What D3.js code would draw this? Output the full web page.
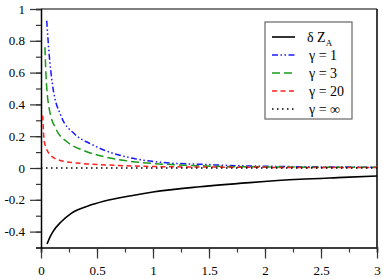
<!DOCTYPE html>
<html>
<head>
<meta charset="utf-8">
<script src="https://cdn.jsdelivr.net/npm/d3@7"></script>
<style>
  body { margin: 0; background: #fff; }
  svg text { font-family: "Liberation Serif", "Times New Roman", "DejaVu Serif", serif !important; }
</style>
</head>
<body>
<svg id="chart"></svg>
<script>
// values
const deltaZA = [[0.054,-0.478],[0.08,-0.435],[0.107,-0.40],[0.181,-0.338],[0.27,-0.285],[0.42,-0.239],[0.568,-0.208],[0.806,-0.174],[1.0,-0.151],[1.418,-0.118],[1.864,-0.092],[2.31,-0.071],[2.7,-0.059],[3.0,-0.050]];
const gamma1 = [[0.051,0.926],[0.074,0.706],[0.104,0.518],[0.178,0.329],[0.30,0.214],[0.446,0.151],[0.58,0.108],[0.82,0.061],[1.12,0.033],[1.48,0.022],[1.67,0.016],[2.0,0.011],[2.5,0.007],[3.0,0.005]];
const gamma3 = [[0.035,0.76],[0.045,0.58],[0.074,0.371],[0.134,0.245],[0.238,0.162],[0.386,0.109],[0.57,0.07],[0.82,0.04],[1.12,0.023],[1.42,0.014],[1.67,0.009],[2.0,0.007],[2.5,0.005],[3.0,0.004]];
const gamma20 = [[0.015,0.33],[0.03,0.162],[0.09,0.077],[0.18,0.046],[0.357,0.029],[0.59,0.019],[0.9,0.011],[1.12,0.008],[1.5,0.006],[2.0,0.004],[2.5,0.003],[3.0,0.003]];
const gammaInf = [[0,0],[3,0]];

const xTicks = [0, 0.5, 1, 1.5, 2, 2.5, 3];
const xLabels = ['0', '0.5', '1', '1.5', '2', '2.5', '3'];
const yTicks = [-0.4, -0.2, 0, 0.2, 0.4, 0.6, 0.8, 1];
const yLabels = ['-0.4', '-0.2', '0', '0.2', '0.4', '0.6', '0.8', '1'];
const legendLabels = ['δ Z', 'γ = 1', 'γ = 3', 'γ = 20', 'γ = ∞'];

const width = 383, height = 279;
const margin = { left: 41, right: 6, top: 9, bottom: 31.5 };
const serif = '"Liberation Serif", "Times New Roman", serif';

const svg = d3.select('#chart')
  .attr('width', width)
  .attr('height', height);

const x = d3.scaleLinear().domain([0, 3]).range([margin.left, width - margin.right]);
const y = d3.scaleLinear().domain([-0.5, 1]).range([height - margin.bottom, margin.top]);

// frame
svg.append('line')
  .attr('x1', x(0)).attr('x2', x(3)).attr('y1', y(1)).attr('y2', y(1))
  .attr('stroke', '#555').attr('stroke-width', 1.5);
svg.append('line')
  .attr('x1', x(3)).attr('x2', x(3)).attr('y1', y(1)).attr('y2', y(-0.5))
  .attr('stroke', '#000').attr('stroke-width', 1.5);

// x axis
const xAxis = svg.append('g').attr('transform', `translate(0,${y(-0.5)})`);
xAxis.call(d3.axisBottom(x).tickValues(d3.range(0, 3.01, 0.25)).tickSize(5).tickFormat(''))
  .call(g => g.select('.domain').attr('stroke', '#000').attr('stroke-width', 1.5))
  .call(g => g.selectAll('.tick line').attr('stroke', '#333').attr('stroke-width', 1.2));
xAxis.append('g')
  .call(d3.axisBottom(x).tickValues(xTicks).tickSize(11).tickFormat((d, i) => xLabels[i]))
  .call(g => g.select('.domain').remove())
  .call(g => g.selectAll('.tick line').attr('stroke', '#333').attr('stroke-width', 1.2))
  .call(g => g.selectAll('.tick text').attr('font-size', 13).attr('fill', '#000')
    .style('font-family', serif).attr('y', 27.5).attr('dy', null));

// y axis
const yAxis = svg.append('g').attr('transform', `translate(${x(0)},0)`);
yAxis.call(d3.axisLeft(y).tickValues(d3.range(-0.5, 1.001, 0.1)).tickSize(5).tickFormat(''))
  .call(g => g.select('.domain').attr('stroke', '#000').attr('stroke-width', 1.5))
  .call(g => g.selectAll('.tick line').attr('stroke', '#333').attr('stroke-width', 1.2));
yAxis.append('g')
  .call(d3.axisLeft(y).tickValues(yTicks).tickSize(11).tickFormat((d, i) => yLabels[i]))
  .call(g => g.select('.domain').remove())
  .call(g => g.selectAll('.tick line').attr('stroke', '#333').attr('stroke-width', 1.2))
  .call(g => g.selectAll('.tick text').attr('font-size', 13).attr('fill', '#000')
    .style('font-family', serif).attr('x', -16));

// curves
const line = d3.line().x(d => x(d[0])).y(d => y(d[1])).curve(d3.curveMonotoneX);
const series = [
  { data: deltaZA, color: '#000', dash: null, w: 1.6 },
  { data: gamma1, color: '#1a1aff', dash: '6,2.5,1.5,2.5,1.5,2.5', w: 1.5 },
  { data: gamma3, color: '#1a9a1a', dash: '8,4', w: 1.5 },
  { data: gamma20, color: '#ff2020', dash: '5,3.5', w: 1.5 },
  { data: gammaInf, color: '#000', dash: '1.5,3.5', w: 1.5 }
];

svg.selectAll('path.curve')
  .data(series)
  .enter().append('path')
  .attr('class', 'curve')
  .attr('d', d => line(d.data))
  .attr('fill', 'none')
  .attr('stroke', d => d.color)
  .attr('stroke-width', d => d.w)
  .attr('stroke-dasharray', d => d.dash);

// legend
const legend = svg.append('g').attr('transform', 'translate(265,22)');
legend.append('rect')
  .attr('width', 87).attr('height', 97)
  .attr('fill', '#fff').attr('stroke', '#666').attr('stroke-width', 1.2);

const item = legend.selectAll('g.item')
  .data(series)
  .enter().append('g')
  .attr('class', 'item')
  .attr('transform', (d, i) => `translate(0,${15 + i * 18})`);

item.append('line')
  .attr('x1', 7).attr('x2', 30).attr('y1', 0).attr('y2', 0)
  .attr('stroke', d => d.color)
  .attr('stroke-width', d => d.w)
  .attr('stroke-dasharray', d => d.dash);

item.append('text')
  .attr('x', (d, i) => i === 0 ? 42 : 44)
  .attr('y', 5)
  .attr('font-size', 14)
  .style('font-family', serif)
  .text((d, i) => legendLabels[i])
  .filter((d, i) => i === 0)
  .append('tspan')
  .attr('font-size', 9)
  .attr('dy', 4)
  .text('A');
</script>
</body>
</html>
